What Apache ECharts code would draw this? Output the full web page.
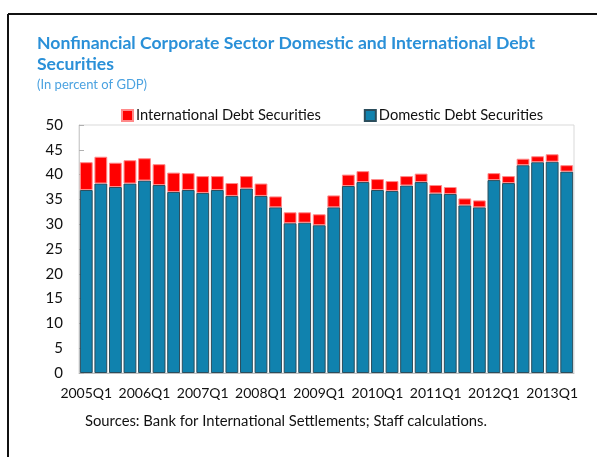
<!DOCTYPE html>
<html>
<head>
<meta charset="utf-8">
<script src="https://cdn.jsdelivr.net/npm/echarts@6/dist/echarts.min.js"></script>
<style>
  html, body { margin: 0; padding: 0; background: #fff; }
  #chart { width: 597px; height: 457px; }
</style>
</head>
<body>
<div id="chart"></div>
<script>
// quarters 2005Q1 .. 2013Q2
const quarters = []
for (let y = 2005; y <= 2013; y++) {
  for (let q = 1; q <= 4; q++) {
    if (y === 2013 && q > 2) break
    quarters.push(y + 'Q' + q)
  }
}

// domestic debt securities, % of GDP
const domestic = [
  36.9, 38.2, 37.5, 38.2, 38.8, 37.9, 36.5, 36.9, 36.3, 36.9,
  35.7, 37.2, 35.7, 33.4, 30.2, 30.3, 29.8, 33.4, 37.7, 38.5,
  36.9, 36.7, 37.8, 38.5, 36.2, 36.1, 33.8, 33.4, 38.9, 38.3,
  41.9, 42.5, 42.6, 40.6
]

// international debt securities, % of GDP (stacked on top)
const international = [
  5.6, 5.4, 4.9, 4.7, 4.5, 4.2, 3.9, 3.4, 3.4, 2.8,
  2.6, 2.5, 2.5, 2.2, 2.2, 2.1, 2.2, 2.4, 2.3, 2.2,
  2.2, 2.0, 1.9, 1.7, 1.7, 1.4, 1.4, 1.4, 1.4, 1.4,
  1.3, 1.2, 1.5, 1.3
]

const fontFamily = 'Lato, "Open Sans", sans-serif'

const chart = echarts.init(document.getElementById('chart'))
chart.setOption({
  animation: false,
  textStyle: { fontFamily: fontFamily },
  title: [
    {
      text: 'Nonfinancial Corporate Sector Domestic and International Debt\nSecurities',
      left: 37,
      top: 33,
      padding: 0,
      textStyle: {
        fontFamily: fontFamily,
        fontSize: 17.6,
        fontWeight: 'bold',
        color: '#2a90d8',
        lineHeight: 21
      }
    },
    {
      text: '(In percent of GDP)',
      left: 37,
      top: 78,
      padding: 0,
      textStyle: { fontFamily: fontFamily, fontSize: 13, fontWeight: 'normal', color: '#4ba2e0' }
    },
    {
      text: 'Sources: Bank for International Settlements; Staff calculations.',
      left: 85,
      top: 414,
      padding: 0,
      textStyle: { fontFamily: fontFamily, fontSize: 14.8, fontWeight: 'normal', color: '#111' }
    }
  ],
  legend: {
    left: 116,
    top: 103,
    itemWidth: 11,
    itemHeight: 11,
    itemGap: 43,
    icon: 'rect',
    textStyle: { fontSize: 14.7, color: '#111', padding: [0, 0, 0, -2] },
    data: ['International Debt Securities', 'Domestic Debt Securities']
  },
  grid: {
    left: 79,
    right: 23,
    top: 125,
    bottom: 84,
    show: true,
    borderColor: '#d9d9d9',
    borderWidth: 1
  },
  xAxis: {
    type: 'category',
    data: quarters,
    axisLine: { lineStyle: { color: '#c0c0c0' } },
    axisTick: { show: false },
    axisLabel: { interval: 3, margin: 13, fontSize: 14, color: '#111' }
  },
  yAxis: {
    type: 'value',
    min: 0,
    max: 50,
    interval: 5,
    axisLine: { show: true, lineStyle: { color: '#d0d0d0' } },
    axisTick: { show: true, inside: true, length: 5, lineStyle: { color: '#b0b0b0' } },
    splitLine: { show: false },
    axisLabel: { margin: 16, fontSize: 15, color: '#111' }
  },
  series: [
    {
      name: 'Domestic Debt Securities',
      type: 'bar',
      stack: 'total',
      barCategoryGap: '12%',
      itemStyle: { color: '#1082ae', borderColor: '#2b4d5c', borderWidth: 1 },
      data: domestic
    },
    {
      name: 'International Debt Securities',
      type: 'bar',
      stack: 'total',
      barCategoryGap: '12%',
      itemStyle: { color: '#ff0000', borderColor: '#ff8a8a', borderWidth: 1 },
      data: international
    }
  ],
  graphic: [
    // outer frame (left and top edges)
    { type: 'line', shape: { x1: 8, y1: 14, x2: 597, y2: 14 }, style: { stroke: '#111', lineWidth: 2 } },
    { type: 'line', shape: { x1: 8, y1: 14, x2: 8, y2: 457 }, style: { stroke: '#111', lineWidth: 2 } }
  ]
})
</script>
</body>
</html>
